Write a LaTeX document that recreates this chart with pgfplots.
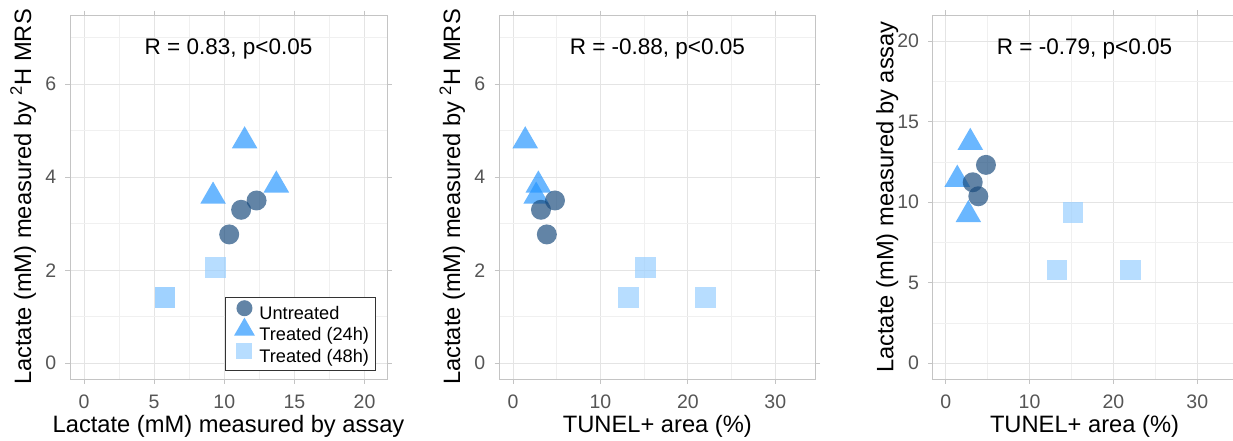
\documentclass[border=0pt]{standalone}
\usepackage{fontspec}
\setmainfont{Liberation Sans}
\usepackage{pgfplots}
\pgfplotsset{compat=1.18}
\definecolor{cU}{HTML}{184A7C}
\definecolor{cA}{HTML}{2495FF}
\definecolor{cB}{HTML}{95CDFF}
\definecolor{gridmaj}{HTML}{E4E4E4}
\definecolor{gridmin}{HTML}{F0F0F0}
\definecolor{border}{HTML}{C4C4C4}
\definecolor{ticktext}{HTML}{555555}
\definecolor{legborder}{HTML}{333333}
\newcommand{\lgt}[1]{\fontsize{18.2}{20}\selectfont\rule[-2.5pt]{0pt}{11.4pt}#1}
\pgfplotsset{
  panel/.style={
    scale only axis, anchor=south west, height=364pt,
    axis line style={draw=border, line width=0.9pt},
    tick align=outside, major tick length=4.5pt,
    tick style={draw=border, line width=0.8pt},
    minor tick length=0pt,
    grid=both,
    major grid style={draw=gridmaj, line width=0.8pt},
    minor grid style={draw=gridmin, line width=0.6pt},
    /pgf/number format/assume math mode=true,
    ticklabel style={font=\fontsize{19.5}{20}\selectfont, text=ticktext, inner sep=0pt},
    xticklabel style={anchor=base, yshift=-24.5pt},
    yticklabel style={anchor=east, xshift=-9pt},
    label style={font=\fontsize{23.7}{26}\selectfont, inner sep=0pt},
    xlabel style={at={(axis description cs:0.5,-0.148)}, anchor=base},
    clip=false,
  },
  pU/.style={only marks, mark=*, mark size=10pt, color=cU, mark options={draw opacity=0, fill=cU, fill opacity=0.68}},
  pA/.style={only marks, mark=triangle*, mark size=14.8pt, color=cA, mark options={draw opacity=0, fill=cA, fill opacity=0.68}},
  pB/.style={only marks, mark=square*, mark size=10.3pt, color=cB, mark options={draw opacity=0, fill=cB, fill opacity=0.68}},
}
\begin{document}
\begin{tikzpicture}[x=1pt,y=1pt]
\useasboundingbox (0,0) rectangle (1233,440);
\clip (0,0) rectangle (1233,440);

% Panel 1
\begin{axis}[panel, at={(70pt,61pt)}, width=317pt,
  xmin=-1, xmax=21.6, ymin=-0.34, ymax=7.49,
  xtick={0,5,10,15,20}, minor xtick={2.5,7.5,12.5,17.5},
  ytick={0,2,4,6}, minor ytick={1,3,5,7},
  xlabel={Lactate (mM) measured by assay},
  ylabel={Lactate (mM) measured by \textsuperscript{2}H MRS},
  ylabel style={at={(axis description cs:-0.123,0.5)}, anchor=base},
  legend style={at={(rel axis cs:0.9653,0.0228)}, anchor=south east,
    draw=legborder, line width=0.9pt, fill=white,
    inner xsep=4.5pt, inner ysep=4.5pt,
    row sep=0pt},
  legend cell align=left,
  legend image code/.code={\path[draw=none,fill=none] (0pt,-4pt) rectangle (28pt,12pt);
    \pgfinterruptboundingbox\draw[#1] plot coordinates {(15pt,5.5pt)};\endpgfinterruptboundingbox},
]
\addlegendimage{only marks, mark=*, mark size=8pt, color=cU, mark options={draw opacity=0, fill=cU, fill opacity=0.68}}
\addlegendentry{\lgt{Untreated}}
\addlegendimage{only marks, mark=triangle*, mark size=12pt, color=cA, mark options={draw opacity=0, fill=cA, fill opacity=0.68}}
\addlegendentry{\lgt{Treated (24h)}}
\addlegendimage{only marks, mark=square*, mark size=8pt, color=cB, mark options={draw opacity=0, fill=cB, fill opacity=0.68}}
\addlegendentry{\lgt{Treated (48h)}}
\addplot[pB, forget plot] coordinates {(5.78,1.41) (9.38,2.06) (5.76,1.41)};
\addplot[pA, forget plot] coordinates {(11.45,4.78) (9.2,3.59) (13.71,3.83)};
\addplot[pU, forget plot] coordinates {(10.35,2.77) (11.2,3.30) (12.3,3.50)};
\node[anchor=base, font=\fontsize{22.5}{24}\selectfont] at (rel axis cs:0.5,0.892) {R = 0.83, p<0.05};
\end{axis}

% Panel 2
\begin{axis}[panel, at={(499pt,61pt)}, width=316.7pt,
  xmin=-1.6, xmax=34.62, ymin=-0.34, ymax=7.49,
  xtick={0,10,20,30}, minor xtick={5,15,25},
  ytick={0,2,4,6}, minor ytick={1,3,5,7},
  xlabel={TUNEL+ area (\%)},
  ylabel={Lactate (mM) measured by \textsuperscript{2}H MRS},
  ylabel style={at={(axis description cs:-0.123,0.5)}, anchor=base},
]
\addplot[pB] coordinates {(13.2,1.41) (15.15,2.06) (22.0,1.41)};
\addplot[pA] coordinates {(1.4,4.78) (2.65,3.59) (2.9,3.83)};
\addplot[pU] coordinates {(3.87,2.77) (3.2,3.30) (4.8,3.50)};
\node[anchor=base, font=\fontsize{22.5}{24}\selectfont] at (rel axis cs:0.5,0.892) {R = -0.88, p<0.05};
\end{axis}

% Panel 3
\begin{axis}[panel, at={(932.7pt,61pt)}, width=303.6pt,
  xmin=-1.55, xmax=34.65, ymin=-0.98, ymax=21.63,
  xtick={0,10,20,30}, minor xtick={5,15,25},
  ytick={0,5,10,15,20}, minor ytick={2.5,7.5,12.5,17.5},
  xlabel={TUNEL+ area (\%)},
  ylabel={Lactate (mM) measured by assay},
  ylabel style={at={(axis description cs:-0.1298,0.5)}, anchor=base},
]
\addplot[pB] coordinates {(13.27,5.8) (15.17,9.38) (22.05,5.8)};
\addplot[pA] coordinates {(1.38,11.42) (2.7,9.22) (2.93,13.71)};
\addplot[pU] coordinates {(3.89,10.37) (3.22,11.24) (4.8,12.32)};
\node[anchor=base, font=\fontsize{22.5}{24}\selectfont] at (rel axis cs:0.5,0.892) {R = -0.79, p<0.05};
\end{axis}
\end{tikzpicture}
\end{document}
